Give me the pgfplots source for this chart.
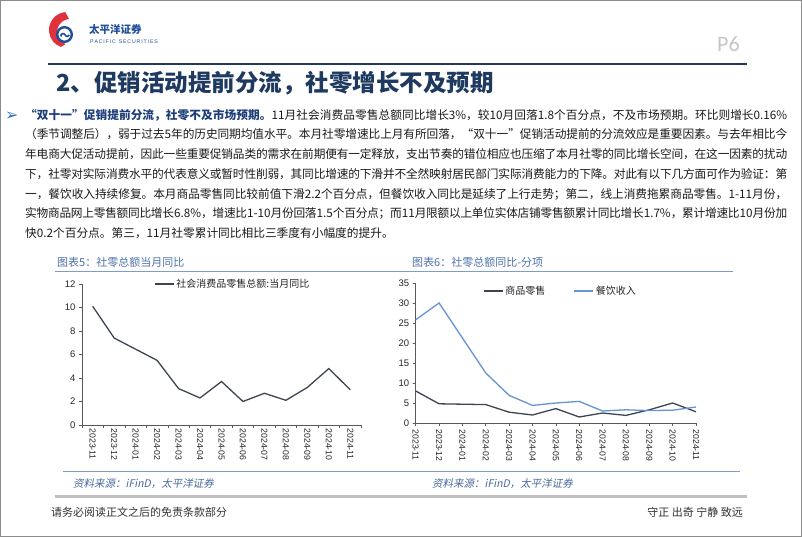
\documentclass[border=0pt]{standalone}
\usepackage{pgfplots}
\pgfplotsset{compat=1.18}
\usepackage{fontspec}
\setmainfont{Liberation Sans}
\newfontfamily\cjk{Noto Sans CJK SC}
\newfontfamily\cjkit[FakeSlant=0.2]{Noto Sans CJK SC}
\newfontfamily\sym{DejaVu Sans}
\newfontfamily\carlito{Carlito}
\definecolor{navy}{HTML}{1F3A60}
\definecolor{boldblue}{HTML}{1F3F7A}
\definecolor{arrowblue}{HTML}{2E75B6}
\definecolor{hdrblue}{HTML}{4F72A8}
\definecolor{hdrline}{HTML}{7F9BC7}
\definecolor{srcblue}{HTML}{4A6A9F}
\definecolor{bodytext}{HTML}{1A1A1A}
\definecolor{axisgray}{HTML}{595959}
\definecolor{darkline}{HTML}{3E4451}
\definecolor{lightblue}{HTML}{6495D2}
\definecolor{logored}{HTML}{E0323C}
\definecolor{logoblue}{HTML}{1F4E9C}
\XeTeXinterchartokenstate=1
\count255="3000
\loop
  \XeTeXcharclass\count255=7
  \ifnum\count255<"9FFF \advance\count255 by 1 \repeat
\count255="FF00
\loop
  \XeTeXcharclass\count255=7
  \ifnum\count255<"FFEF \advance\count255 by 1 \repeat
\XeTeXinterchartoks 7 7 = {\hskip 0pt plus 1pt minus 0.4pt}
\newcommand\bline[2]{\node[anchor=base west, inner sep=0pt, text=bodytext, font=\cjk\fontsize{11.7}{12}\selectfont] at (25pt,#1pt) {\makebox[762pt][s]{#2}};}
\begin{document}
\begin{tikzpicture}[x=1pt,y=1pt]
\fill[white] (0,0) rectangle (802,537);
\useasboundingbox (0,0) rectangle (802,537);
\draw[gray!90, line width=1.3pt] (0.8,0.8) rectangle (801.2,536.2);
% logo
\fill[logored] (65.4,524.9) arc[start angle=95, end angle=250, radius=18] -- (65.6,492.8) arc[start angle=250, end angle=95, radius=13] -- cycle;
\draw[logoblue, line width=2.4pt] (64.5,502.5) circle (7.3);
\draw[logoblue, line width=1.6pt] (61,500.5) arc[start angle=200, end angle=20, radius=2.2] arc[start angle=200, end angle=340, radius=2.2];
\node[anchor=base west, inner sep=0pt, font=\cjk\bfseries\fontsize{10.5}{11}\selectfont, text=logoblue] at (89,503) {太平洋证券};
\node[anchor=base west, inner sep=0pt, font=\fontsize{5.2}{6}\selectfont, text=logoblue] at (90,493) {P\,A\,C\,I\,F\,I\,C\ \ S\,E\,C\,U\,R\,I\,T\,I\,E\,S};
\node[anchor=base west, inner sep=0pt, font=\carlito\fontsize{22}{22}\selectfont, text=gray!45] at (717,485) {P6};
\draw[navy, line width=2.2pt] (48,473) -- (747,473);
% title
\node[anchor=base west, inner sep=0pt, font=\cjk\bfseries\fontsize{23.5}{24}\selectfont, text=navy] at (56,445) {2、促销活动提前分流，社零增长不及预期};
% body
\node[anchor=base west, inner sep=0pt, font=\sym\fontsize{16}{16}\selectfont, text=arrowblue] at (5,416.5) {➢};
\bline{417.7}{{\color{boldblue}\bfseries “双十一”促销提前分流，社零不及市场预期。}11月社会消费品零售总额同比增长3\%，较10月回落1.8个百分点，不及市场预期。环比则增长0.16\%}
\bline{398.0}{（季节调整后），弱于过去5年的历史同期均值水平。本月社零增速比上月有所回落，“双十一”促销活动提前的分流效应是重要因素。与去年相比今}
\bline{378.3}{年电商大促活动提前，因此一些重要促销品类的需求在前期便有一定释放，支出节奏的错位相应也压缩了本月社零的同比增长空间，在这一因素的扰动}
\bline{358.6}{下，社零对实际消费水平的代表意义或暂时性削弱，其同比增速的下滑并不全然映射居民部门实际消费能力的下降。对此有以下几方面可作为验证：第}
\bline{338.9}{一，餐饮收入持续修复。本月商品零售同比较前值下滑2.2个百分点，但餐饮收入同比是延续了上行走势；第二，线上消费拖累商品零售。1-11月份，}
\bline{319.2}{实物商品网上零售额同比增长6.8\%，增速比1-10月份回落1.5个百分点；而11月限额以上单位实体店铺零售额累计同比增长1.7\%，累计增速比10月份加}
\node[anchor=base west, inner sep=0pt, text=bodytext, font=\cjk\fontsize{11.7}{12}\selectfont] at (25,299.5) {快0.2个百分点。第三，11月社零累计同比相比三季度有小幅度的提升。};
% chart headers
\node[anchor=base west, inner sep=0pt, font=\cjk\fontsize{11}{11}\selectfont, text=hdrblue] at (57,270.8) {图表5：社零总额当月同比};
\node[anchor=base west, inner sep=0pt, font=\cjk\fontsize{11}{11}\selectfont, text=hdrblue] at (412,270.8) {图表6：社零总额同比-分项};
\draw[hdrline, line width=1pt] (55,265) -- (733,265);
% left chart
\begin{axis}[
  at={(82pt,112pt)}, anchor=south west, scale only axis,
  width=279pt, height=141pt,
  xmin=-0.5, xmax=12.5, ymin=0, ymax=12,
  axis x line*=bottom, axis y line*=left,
  axis line style={draw=axisgray, line width=0.6pt, -},
  ytick={0,2,...,12},
  xtick={-0.5,0.5,...,12.5}, xticklabels={},
  extra x ticks={0,1,...,12},
  extra x tick labels={2023-11,2023-12,2024-01,2024-02,2024-03,2024-04,2024-05,2024-06,2024-07,2024-08,2024-09,2024-10,2024-11},
  extra x tick style={major tick length=0pt},
  tick align=outside, major tick length=3pt,
  tick style={axisgray, line width=0.6pt},
  x tick label style={rotate=-90, anchor=west, font=\fontsize{8.7}{8.7}\selectfont, text=black!85},
  y tick label style={font=\fontsize{9.5}{9.5}\selectfont, text=black!85},
  /pgf/number format/assume math mode=true,
  legend style={at={(0.258,1.0)}, anchor=west, draw=none, fill=none, inner sep=0pt,
    font=\cjk\fontsize{10}{10}\selectfont, text=black!85},
  legend image code/.code={\draw[#1] (0pt,0pt) -- (19pt,0pt);},
]
\addplot[darkline, line width=1.3pt] coordinates {(0,10.1)(1,7.4)(3,5.5)(4,3.1)(5,2.3)(6,3.7)(7,2.0)(8,2.7)(9,2.1)(10,3.2)(11,4.8)(12,3.0)};
\addlegendentry{社会消费品零售总额:当月同比}
\end{axis}
% right chart
\begin{axis}[
  at={(415.7pt,114pt)}, anchor=south west, scale only axis,
  width=280.3pt, height=140pt,
  xmin=0, xmax=12, ymin=0, ymax=35,
  axis x line*=bottom, axis y line*=left,
  axis line style={draw=axisgray, line width=0.6pt, -},
  ytick={0,5,...,35},
  xtick={0,1,...,12},
  xticklabels={2023-11,2023-12,2024-01,2024-02,2024-03,2024-04,2024-05,2024-06,2024-07,2024-08,2024-09,2024-10,2024-11},
  tick align=outside, major tick length=3pt,
  tick style={axisgray, line width=0.6pt},
  x tick label style={rotate=-90, anchor=west, font=\fontsize{8.7}{8.7}\selectfont, text=black!85},
  y tick label style={font=\fontsize{9.5}{9.5}\selectfont, text=black!85},
  /pgf/number format/assume math mode=true,
  legend columns=2,
  legend style={at={(0.240,0.943)}, anchor=west, draw=none, fill=none, inner sep=0pt,
    font=\cjk\fontsize{10}{10}\selectfont, text=black!85,
    /tikz/every even column/.style={column sep=26pt}},
  legend image code/.code={\draw[#1] (0pt,0pt) -- (19pt,0pt);},
]
\addplot[darkline, line width=1.3pt] coordinates {(0,8.0)(1,4.8)(3,4.6)(4,2.7)(5,2.0)(6,3.6)(7,1.5)(8,2.5)(9,1.9)(10,3.3)(11,5.0)(12,2.8)};
\addlegendentry{商品零售}
\addplot[lightblue, line width=1.3pt] coordinates {(0,25.8)(1,30.0)(3,12.5)(4,6.9)(5,4.4)(6,5.0)(7,5.4)(8,3.0)(9,3.3)(10,3.1)(11,3.2)(12,4.0)};
\addlegendentry{餐饮收入}
\end{axis}
% bottom
\draw[hdrline, line width=1.2pt] (63,65.3) -- (740,65.3);
\node[anchor=base west, inner sep=0pt, font=\cjkit\fontsize{10.5}{11}\selectfont, text=srcblue] at (73,49) {资料来源：iFinD，太平洋证券};
\node[anchor=base west, inner sep=0pt, font=\cjkit\fontsize{10.5}{11}\selectfont, text=srcblue] at (432,49) {资料来源：iFinD，太平洋证券};
\draw[black!25, line width=2.5pt] (55,40.3) -- (747,40.3);
\node[anchor=base west, inner sep=0pt, font=\cjk\fontsize{11}{11}\selectfont, text=black!80] at (51,20) {请务必阅读正文之后的免责条款部分};
\node[anchor=base east, inner sep=0pt, font=\cjk\fontsize{11}{11}\selectfont, text=black!80] at (743,20) {守正\ 出奇\ 宁静\ 致远};
\end{tikzpicture}
\end{document}
